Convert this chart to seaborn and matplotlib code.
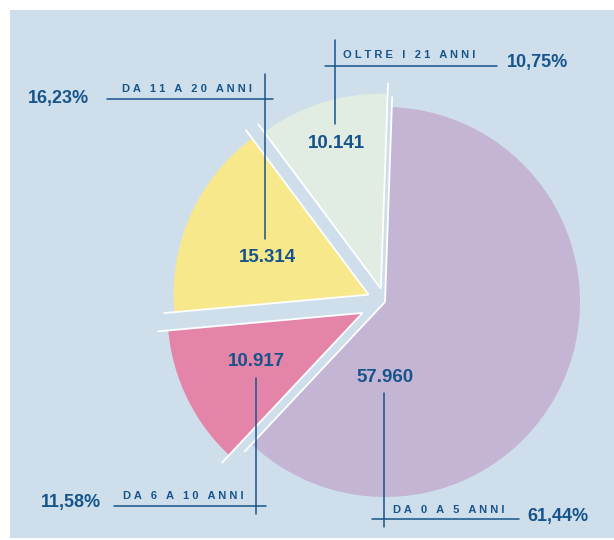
import numpy as np
import matplotlib.pyplot as plt
import seaborn as sns
from matplotlib.patches import Rectangle

categories = ["DA 0 A 5 ANNI", "DA 6 A 10 ANNI", "DA 11 A 20 ANNI", "OLTRE I 21 ANNI"]
counts = [57960, 10917, 15314, 10141]
count_labels = ["57.960", "10.917", "15.314", "10.141"]
percent_labels = ["61,44%", "11,58%", "16,23%", "10,75%"]

colors = ["#c4b5d5", "#e584a9", "#f7e98b", "#e1ece3"]
PANEL = "#cedfeb"
INK = "#17548b"

W, H = 614, 540
# slice offsets in pixels, pie centre and radius in pixels
explode = [0, 25, 18, 14]
CENTER = (385, H - 302)
RADIUS = 195

# annotation layout, pixel coords from the top-left of the image
layout = [
    dict(value=(385, 378), lead=(384, 393, 527), rule=(519, 372, 519), name=(393, 510), pct=(527, 517)),
    dict(value=(256, 361), lead=(256, 378, 514), rule=(506, 114, 266), name=(123, 496), pct=(41, 503)),
    dict(value=(267, 257), lead=(265, 74, 239), rule=(99, 107, 273), name=(122, 89), pct=(28, 98)),
    dict(value=(336, 144), lead=(335, 40, 124), rule=(66, 325, 497), name=(343, 55), pct=(507, 63)),
]


def spaced(text):
    return "   ".join(" ".join(word) for word in text.split())


sns.set_style("white")
plt.rcParams["font.family"] = ["Liberation Sans", "DejaVu Sans"]

fig = plt.figure(figsize=(W / 100, H / 100), dpi=100)
fig.patch.set_facecolor("white")
ax = fig.add_axes([0, 0, 1, 1])

ax.add_patch(Rectangle((10, H - 538), W - 10, 528, facecolor=PANEL, edgecolor="none", zorder=0))

wedges, _ = ax.pie(counts, colors=colors, explode=explode, startangle=88,
                   counterclock=False, radius=RADIUS, center=CENTER,
                   wedgeprops=dict(linewidth=0))

# white strokes along the straight edges of every slice
for w in wedges:
    cx, cy = w.center
    for th in (w.theta1, w.theta2):
        t = np.deg2rad(th)
        ax.plot([cx, cx + 1.055 * w.r * np.cos(t)], [cy, cy + 1.055 * w.r * np.sin(t)],
                color="white", lw=1.3, solid_capstyle="butt", zorder=2)

for name, value, pct, lay in zip(categories, count_labels, percent_labels, layout):
    x, y = lay["value"]
    ax.text(x, H - y, value, ha="center", va="center", fontsize=13.5,
            fontweight="bold", color=INK, zorder=4)
    lx, ly0, ly1 = lay["lead"]
    ax.plot([lx, lx], [H - ly0, H - ly1], color=INK, lw=1.1, zorder=3)
    ry, rx0, rx1 = lay["rule"]
    ax.plot([rx0, rx1], [H - ry, H - ry], color=INK, lw=1.1, zorder=3)
    nx, ny = lay["name"]
    ax.text(nx, H - ny, spaced(name), ha="left", va="center", fontsize=8,
            fontweight="bold", color=INK, zorder=4)
    px, py = lay["pct"]
    ax.text(px, H - py, pct, ha="left", va="center", fontsize=13,
            fontweight="bold", color=INK, zorder=4)

ax.set_xlim(0, W)
ax.set_ylim(0, H)
ax.set_aspect("auto")
ax.axis("off")

fig.savefig("out.png", dpi=100, facecolor="white")
